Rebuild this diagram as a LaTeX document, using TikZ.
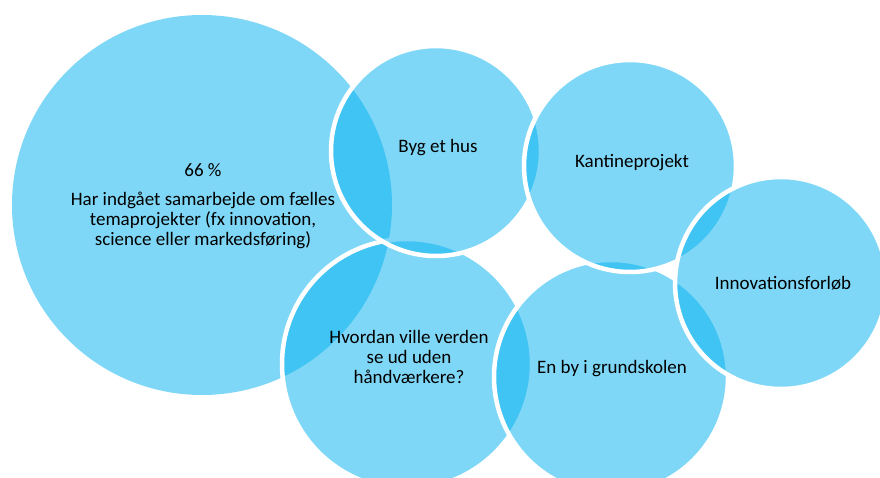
\documentclass[tikz,border=0pt]{standalone}
\usepackage{fontspec}
\setmainfont{Carlito}
\definecolor{vennblue}{HTML}{00B0F0}
\tikzset{
  venn/.style={shape=circle,inner sep=0pt,fill=vennblue,fill opacity=0.5,draw=white,line width=4.5pt},
  label text/.style={align=center,font=\fontsize{19}{20}\selectfont,text=black}
}
\begin{document}
\begin{tikzpicture}[x=1pt,y=-1pt]
\useasboundingbox (0,0) rectangle (880,478);
\clip (0,0) rectangle (880,478);
\node     (big) at (202,205) [venn,draw=none,minimum size=380pt] {};
\node (hvordan) at (407,364) [venn,minimum size=250pt] {};
\node     (byg) at (436,151) [venn,minimum size=210pt] {};
\node    (enby) at (611,377) [venn,minimum size=234pt] {};
\node (kantine) at (630,166) [venn,minimum size=212pt] {};
\node   (innov) at (781,283) [venn,minimum size=212pt] {};
\node     (bigtext) at (203,206) [label text] {66 \%\\[9pt]Har indgået samarbejde om fælles\\temaprojekter (fx innovation,\\science eller markedsføring)};
\node (hvordantext) at (409,357) [label text] {Hvordan ville verden\\se ud uden\\håndværkere?};
\node     (bygtext) at (438,148) [label text] {Byg et hus};
\node    (enbytext) at (612,369) [label text] {En by i grundskolen};
\node (kantinetext) at (632,163) [label text] {Kantineprojekt};
\node   (innovtext) at (783,283) [label text] {Innovationsforløb};
\end{tikzpicture}
\end{document}
